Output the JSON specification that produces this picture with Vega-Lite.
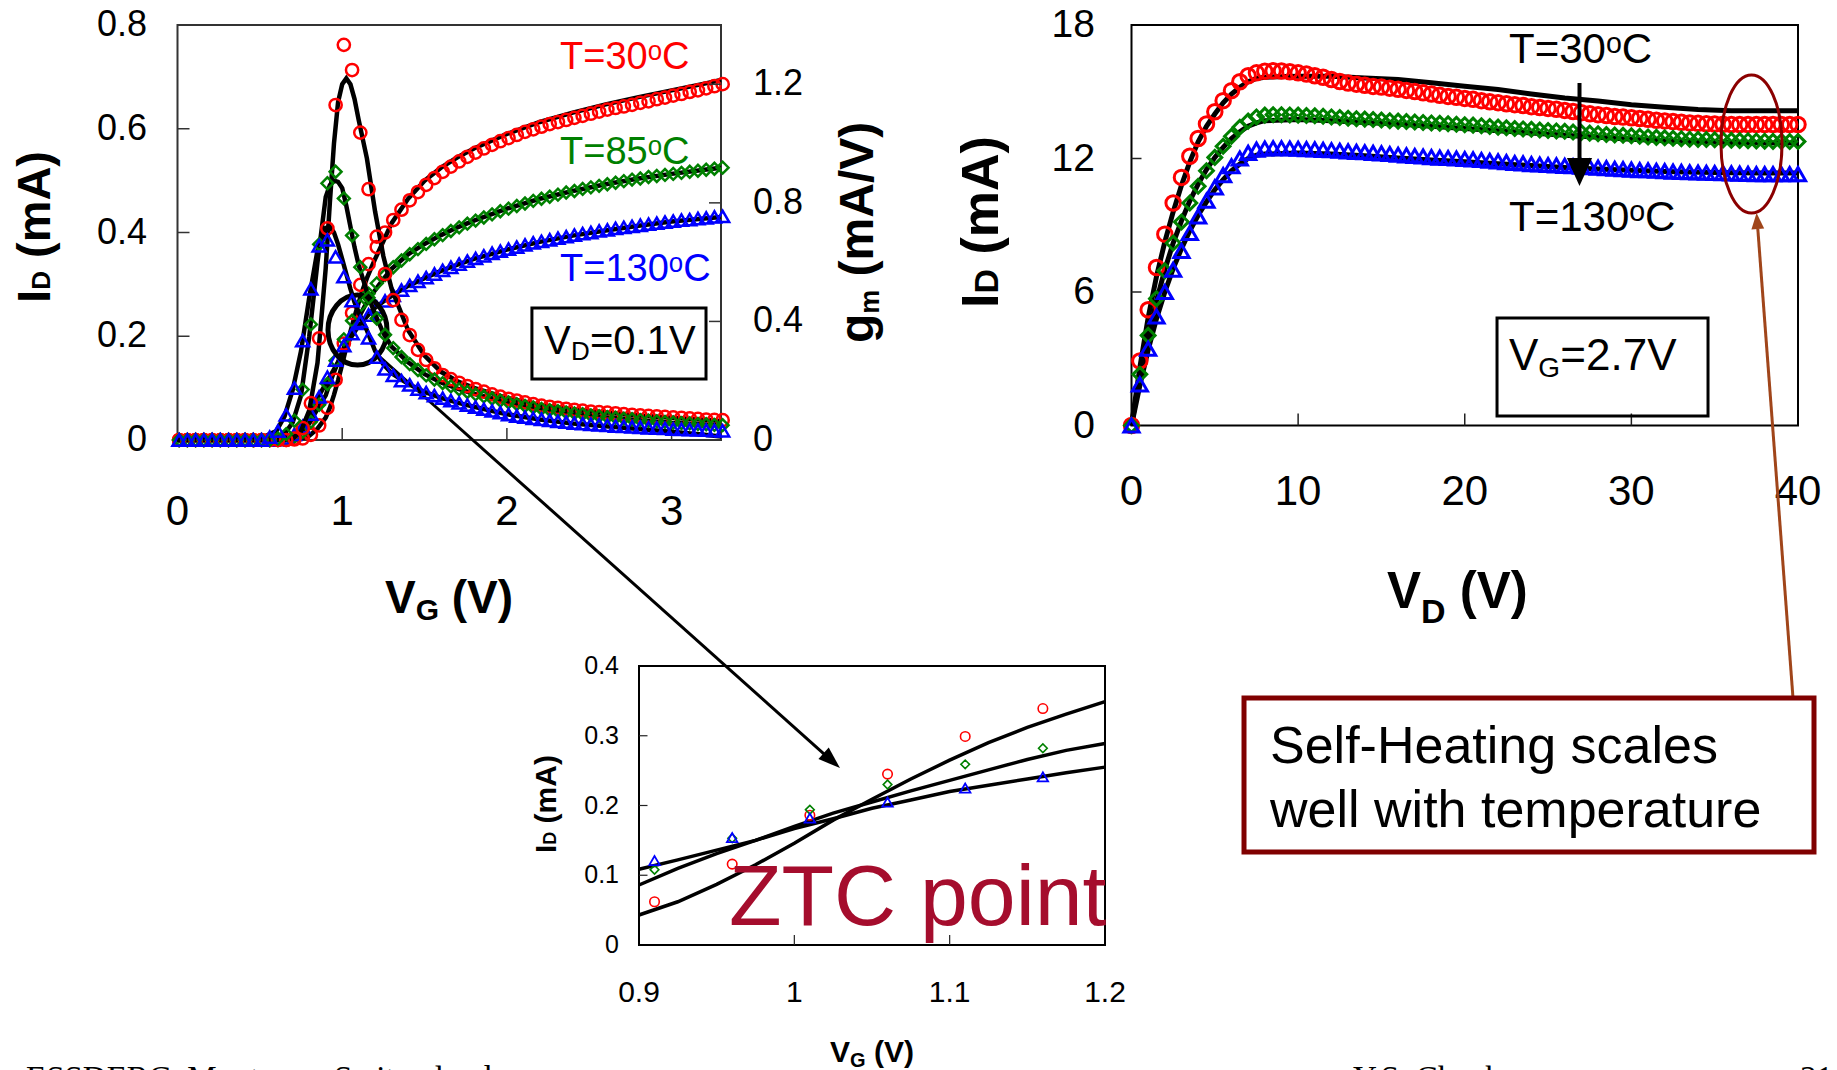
{
"$schema":"https://vega.github.io/schema/vega-lite/v6.json",
"width":1837,"height":1070,"padding":0,"autosize":{"type":"none"},"background":"white",
"config":{"view":{"stroke":null},"font":"Liberation Sans"},
"datasets":{
"lm":[
{"v":0.01,"r":0,"g":0,"b":0,"R":0,"G":0,"B":0},
{"v":0.06,"r":0,"g":0,"b":0,"R":0,"G":0,"B":0},
{"v":0.11,"r":0,"g":0,"b":0,"R":0,"G":0,"B":0},
{"v":0.16,"r":0,"g":0,"b":0,"R":0,"G":0,"B":0},
{"v":0.21,"r":0,"g":0,"b":0,"R":0,"G":0,"B":0},
{"v":0.26,"r":0,"g":0,"b":0,"R":0,"G":0,"B":0},
{"v":0.31,"r":0,"g":0,"b":0,"R":0,"G":0,"B":0},
{"v":0.36,"r":0,"g":0,"b":0,"R":0,"G":0,"B":0},
{"v":0.41,"r":0,"g":0,"b":0,"R":0,"G":0,"B":0},
{"v":0.46,"r":0,"g":0,"b":0,"R":0,"G":0,"B":0},
{"v":0.51,"r":0,"g":0,"b":0,"R":0,"G":0,"B":0},
{"v":0.56,"r":0,"g":0,"b":0,"R":0,"G":0,"B":0.01},
{"v":0.61,"r":0,"g":0,"b":0.001,"R":0,"G":0.005,"B":0.03},
{"v":0.66,"r":0,"g":0.002,"b":0.004,"R":0,"G":0.02,"B":0.085},
{"v":0.71,"r":0.001,"g":0.006,"b":0.011,"R":0.005,"G":0.065,"B":0.175},
{"v":0.76,"r":0.003,"g":0.016,"b":0.026,"R":0.04,"G":0.17,"B":0.335},
{"v":0.81,"r":0.01,"g":0.035,"b":0.05,"R":0.124,"G":0.39,"B":0.51},
{"v":0.86,"r":0.028,"g":0.068,"b":0.083,"R":0.343,"G":0.66,"B":0.655},
{"v":0.91,"r":0.062,"g":0.108,"b":0.121,"R":0.714,"G":0.866,"B":0.675},
{"v":0.96,"r":0.116,"g":0.153,"b":0.154,"R":1.13,"G":0.905,"B":0.618},
{"v":1.01,"r":0.186,"g":0.194,"b":0.182,"R":1.333,"G":0.815,"B":0.551},
{"v":1.06,"r":0.245,"g":0.23,"b":0.205,"R":1.248,"G":0.69,"B":0.47},
{"v":1.11,"r":0.299,"g":0.259,"b":0.225,"R":1.037,"G":0.583,"B":0.4},
{"v":1.16,"r":0.339,"g":0.282,"b":0.241,"R":0.846,"G":0.48,"B":0.345},
{"v":1.21,"r":0.372,"g":0.302,"b":0.256,"R":0.686,"G":0.41,"B":0.28},
{"v":1.26,"r":0.4,"g":0.318,"b":0.268,"R":0.56,"G":0.355,"B":0.24},
{"v":1.31,"r":0.424,"g":0.333,"b":0.279,"R":0.472,"G":0.31,"B":0.218},
{"v":1.36,"r":0.444,"g":0.346,"b":0.289,"R":0.405,"G":0.28,"B":0.2},
{"v":1.41,"r":0.462,"g":0.358,"b":0.298,"R":0.354,"G":0.256,"B":0.186},
{"v":1.46,"r":0.478,"g":0.368,"b":0.306,"R":0.304,"G":0.236,"B":0.172},
{"v":1.51,"r":0.492,"g":0.378,"b":0.313,"R":0.27,"G":0.218,"B":0.16},
{"v":1.56,"r":0.505,"g":0.387,"b":0.32,"R":0.242,"G":0.204,"B":0.15},
{"v":1.61,"r":0.517,"g":0.395,"b":0.327,"R":0.219,"G":0.192,"B":0.141},
{"v":1.66,"r":0.527,"g":0.403,"b":0.333,"R":0.205,"G":0.181,"B":0.133},
{"v":1.71,"r":0.537,"g":0.41,"b":0.339,"R":0.193,"G":0.171,"B":0.125},
{"v":1.76,"r":0.546,"g":0.417,"b":0.345,"R":0.182,"G":0.162,"B":0.118},
{"v":1.81,"r":0.554,"g":0.423,"b":0.35,"R":0.172,"G":0.154,"B":0.111},
{"v":1.86,"r":0.562,"g":0.429,"b":0.355,"R":0.163,"G":0.147,"B":0.104},
{"v":1.91,"r":0.569,"g":0.435,"b":0.36,"R":0.154,"G":0.14,"B":0.098},
{"v":1.96,"r":0.576,"g":0.441,"b":0.364,"R":0.146,"G":0.133,"B":0.092},
{"v":2.01,"r":0.582,"g":0.446,"b":0.368,"R":0.139,"G":0.127,"B":0.086},
{"v":2.06,"r":0.588,"g":0.451,"b":0.372,"R":0.133,"G":0.121,"B":0.081},
{"v":2.11,"r":0.594,"g":0.456,"b":0.376,"R":0.127,"G":0.115,"B":0.077},
{"v":2.16,"r":0.599,"g":0.461,"b":0.38,"R":0.121,"G":0.11,"B":0.073},
{"v":2.21,"r":0.604,"g":0.465,"b":0.383,"R":0.116,"G":0.105,"B":0.07},
{"v":2.26,"r":0.609,"g":0.469,"b":0.386,"R":0.112,"G":0.101,"B":0.066},
{"v":2.31,"r":0.613,"g":0.473,"b":0.389,"R":0.108,"G":0.097,"B":0.063},
{"v":2.36,"r":0.617,"g":0.477,"b":0.392,"R":0.105,"G":0.093,"B":0.06},
{"v":2.41,"r":0.621,"g":0.48,"b":0.395,"R":0.102,"G":0.09,"B":0.057},
{"v":2.46,"r":0.625,"g":0.484,"b":0.398,"R":0.099,"G":0.087,"B":0.055},
{"v":2.51,"r":0.629,"g":0.487,"b":0.4,"R":0.096,"G":0.083,"B":0.053},
{"v":2.56,"r":0.633,"g":0.49,"b":0.403,"R":0.094,"G":0.08,"B":0.051},
{"v":2.61,"r":0.637,"g":0.493,"b":0.405,"R":0.092,"G":0.077,"B":0.049},
{"v":2.66,"r":0.64,"g":0.496,"b":0.408,"R":0.09,"G":0.075,"B":0.047},
{"v":2.71,"r":0.643,"g":0.499,"b":0.41,"R":0.087,"G":0.072,"B":0.046},
{"v":2.76,"r":0.646,"g":0.502,"b":0.412,"R":0.085,"G":0.07,"B":0.044},
{"v":2.81,"r":0.65,"g":0.504,"b":0.414,"R":0.083,"G":0.067,"B":0.043},
{"v":2.86,"r":0.653,"g":0.507,"b":0.416,"R":0.081,"G":0.065,"B":0.041},
{"v":2.91,"r":0.657,"g":0.509,"b":0.418,"R":0.08,"G":0.063,"B":0.04},
{"v":2.96,"r":0.66,"g":0.511,"b":0.42,"R":0.078,"G":0.061,"B":0.039},
{"v":3.01,"r":0.664,"g":0.513,"b":0.422,"R":0.076,"G":0.059,"B":0.037},
{"v":3.06,"r":0.667,"g":0.515,"b":0.424,"R":0.075,"G":0.057,"B":0.036},
{"v":3.11,"r":0.671,"g":0.517,"b":0.425,"R":0.073,"G":0.056,"B":0.035},
{"v":3.16,"r":0.674,"g":0.519,"b":0.427,"R":0.071,"G":0.054,"B":0.034},
{"v":3.21,"r":0.678,"g":0.521,"b":0.428,"R":0.069,"G":0.053,"B":0.033},
{"v":3.26,"r":0.682,"g":0.523,"b":0.43,"R":0.068,"G":0.051,"B":0.032},
{"v":3.31,"r":0.686,"g":0.525,"b":0.431,"R":0.067,"G":0.05,"B":0.031}
],
"lmod":[
{"v":0,"r":0,"g":0,"b":0,"R":0,"G":0,"B":0},
{"v":0.5,"r":0,"g":0,"b":0,"R":0,"G":0,"B":0.005},
{"v":0.6,"r":0,"g":0.001,"b":0.002,"R":0,"G":0.005,"B":0.03},
{"v":0.65,"r":0,"g":0.002,"b":0.004,"R":0.002,"G":0.02,"B":0.08},
{"v":0.7,"r":0.001,"g":0.005,"b":0.01,"R":0.005,"G":0.06,"B":0.17},
{"v":0.75,"r":0.003,"g":0.013,"b":0.024,"R":0.03,"G":0.15,"B":0.3},
{"v":0.8,"r":0.008,"g":0.032,"b":0.048,"R":0.1,"G":0.35,"B":0.48},
{"v":0.85,"r":0.022,"g":0.06,"b":0.08,"R":0.26,"G":0.6,"B":0.64},
{"v":0.9,"r":0.043,"g":0.086,"b":0.1085,"R":0.58,"G":0.82,"B":0.715},
{"v":0.925,"r":0.062,"g":0.11,"b":0.122,"R":0.8,"G":0.86,"B":0.72},
{"v":0.95,"r":0.087,"g":0.131,"b":0.136,"R":1.0,"G":0.875,"B":0.7},
{"v":0.975,"r":0.115,"g":0.15,"b":0.15,"R":1.14,"G":0.871,"B":0.66},
{"v":1.0,"r":0.146,"g":0.17,"b":0.167,"R":1.2,"G":0.85,"B":0.61},
{"v":1.025,"r":0.179,"g":0.189,"b":0.181,"R":1.22,"G":0.79,"B":0.56},
{"v":1.05,"r":0.209,"g":0.205,"b":0.196,"R":1.2,"G":0.72,"B":0.51},
{"v":1.075,"r":0.238,"g":0.221,"b":0.208,"R":1.15,"G":0.65,"B":0.465},
{"v":1.1,"r":0.265,"g":0.236,"b":0.22,"R":1.08,"G":0.59,"B":0.43},
{"v":1.125,"r":0.29,"g":0.251,"b":0.229,"R":1.015,"G":0.545,"B":0.4},
{"v":1.15,"r":0.312,"g":0.266,"b":0.238,"R":0.95,"G":0.5,"B":0.37},
{"v":1.175,"r":0.331,"g":0.279,"b":0.247,"R":0.86,"G":0.46,"B":0.335},
{"v":1.2,"r":0.349,"g":0.289,"b":0.255,"R":0.77,"G":0.425,"B":0.3},
{"v":1.25,"r":0.383,"g":0.31,"b":0.267,"R":0.62,"G":0.36,"B":0.255},
{"v":1.3,"r":0.418,"g":0.33,"b":0.278,"R":0.51,"G":0.315,"B":0.225},
{"v":1.4,"r":0.465,"g":0.358,"b":0.297,"R":0.37,"G":0.262,"B":0.19},
{"v":1.5,"r":0.5,"g":0.378,"b":0.312,"R":0.285,"G":0.222,"B":0.162},
{"v":1.6,"r":0.525,"g":0.395,"b":0.326,"R":0.23,"G":0.194,"B":0.142},
{"v":1.7,"r":0.545,"g":0.41,"b":0.338,"R":0.198,"G":0.173,"B":0.126},
{"v":1.8,"r":0.562,"g":0.423,"b":0.349,"R":0.176,"G":0.156,"B":0.112},
{"v":2.0,"r":0.59,"g":0.446,"b":0.367,"R":0.142,"G":0.128,"B":0.087},
{"v":2.2,"r":0.613,"g":0.465,"b":0.382,"R":0.118,"G":0.106,"B":0.069},
{"v":2.4,"r":0.631,"g":0.48,"b":0.394,"R":0.103,"G":0.09,"B":0.056},
{"v":2.6,"r":0.647,"g":0.493,"b":0.404,"R":0.093,"G":0.077,"B":0.046},
{"v":2.8,"r":0.661,"g":0.504,"b":0.413,"R":0.083,"G":0.067,"B":0.037},
{"v":3.0,"r":0.674,"g":0.513,"b":0.421,"R":0.075,"G":0.058,"B":0.028},
{"v":3.2,"r":0.687,"g":0.521,"b":0.427,"R":0.068,"G":0.052,"B":0.018},
{"v":3.3,"r":0.694,"g":0.525,"b":0.43,"R":0.064,"G":0.049,"B":0.012}
],
"rm":[
{"v":0,"r":0,"g":0,"b":0},{"v":0.5,"r":2.9,"g":2.3,"b":1.85},{"v":1,"r":5.2,"g":4.05,"b":3.45},{"v":1.5,"r":7.1,"g":5.7,"b":4.9},
{"v":2,"r":8.6,"g":6.95,"b":6.0},{"v":2.5,"r":10.0,"g":8.2,"b":7.0},{"v":3,"r":11.15,"g":9.15,"b":7.85},{"v":3.5,"r":12.1,"g":10.0,"b":8.65},
{"v":4,"r":12.9,"g":10.75,"b":9.4},{"v":4.5,"r":13.55,"g":11.45,"b":10.1},{"v":5,"r":14.1,"g":12.05,"b":10.7},{"v":5.5,"r":14.6,"g":12.55,"b":11.25},
{"v":6,"r":15.05,"g":13.0,"b":11.65},{"v":6.5,"r":15.45,"g":13.4,"b":12.0},{"v":7,"r":15.72,"g":13.68,"b":12.25},{"v":7.5,"r":15.85,"g":13.87,"b":12.4},
{"v":8,"r":15.92,"g":13.95,"b":12.45},{"v":8.5,"r":15.94,"g":13.97,"b":12.46},{"v":9,"r":15.93,"g":13.97,"b":12.46},{"v":9.5,"r":15.9,"g":13.96,"b":12.45},
{"v":10,"r":15.85,"g":13.95,"b":12.44},{"v":10.5,"r":15.8,"g":13.93,"b":12.42},{"v":11,"r":15.72,"g":13.92,"b":12.41},{"v":11.5,"r":15.65,"g":13.9,"b":12.39},
{"v":12,"r":15.55,"g":13.87,"b":12.37},{"v":12.5,"r":15.46,"g":13.84,"b":12.35},{"v":13,"r":15.39,"g":13.81,"b":12.32},{"v":13.5,"r":15.34,"g":13.79,"b":12.3},
{"v":14,"r":15.29,"g":13.77,"b":12.28},{"v":14.5,"r":15.24,"g":13.75,"b":12.25},{"v":15,"r":15.21,"g":13.73,"b":12.23},{"v":15.5,"r":15.16,"g":13.7,"b":12.2},
{"v":16,"r":15.11,"g":13.68,"b":12.17},{"v":16.5,"r":15.06,"g":13.66,"b":12.14},{"v":17,"r":15.01,"g":13.64,"b":12.11},{"v":17.5,"r":14.95,"g":13.62,"b":12.09},
{"v":18,"r":14.9,"g":13.6,"b":12.06},{"v":18.5,"r":14.84,"g":13.58,"b":12.04},{"v":19,"r":14.79,"g":13.56,"b":12.02},{"v":19.5,"r":14.75,"g":13.54,"b":12.0},
{"v":20,"r":14.7,"g":13.52,"b":11.98},{"v":20.5,"r":14.66,"g":13.5,"b":11.96},{"v":21,"r":14.6,"g":13.47,"b":11.93},{"v":21.5,"r":14.55,"g":13.44,"b":11.9},
{"v":22,"r":14.51,"g":13.41,"b":11.87},{"v":22.5,"r":14.46,"g":13.38,"b":11.84},{"v":23,"r":14.42,"g":13.35,"b":11.8},{"v":23.5,"r":14.38,"g":13.33,"b":11.78},
{"v":24,"r":14.33,"g":13.31,"b":11.75},{"v":24.5,"r":14.29,"g":13.28,"b":11.73},{"v":25,"r":14.25,"g":13.26,"b":11.71},{"v":25.5,"r":14.21,"g":13.24,"b":11.69},
{"v":26,"r":14.16,"g":13.22,"b":11.67},{"v":26.5,"r":14.11,"g":13.19,"b":11.65},{"v":27,"r":14.06,"g":13.17,"b":11.63},{"v":27.5,"r":14.01,"g":13.14,"b":11.61},
{"v":28,"r":13.97,"g":13.11,"b":11.59},{"v":28.5,"r":13.93,"g":13.08,"b":11.57},{"v":29,"r":13.89,"g":13.06,"b":11.54},{"v":29.5,"r":13.86,"g":13.04,"b":11.52},
{"v":30,"r":13.83,"g":13.02,"b":11.5},{"v":30.5,"r":13.8,"g":13.0,"b":11.48},{"v":31,"r":13.76,"g":12.97,"b":11.47},{"v":31.5,"r":13.72,"g":12.95,"b":11.45},
{"v":32,"r":13.69,"g":12.93,"b":11.43},{"v":32.5,"r":13.66,"g":12.91,"b":11.41},{"v":33,"r":13.63,"g":12.89,"b":11.4},{"v":33.5,"r":13.6,"g":12.87,"b":11.38},
{"v":34,"r":13.58,"g":12.86,"b":11.37},{"v":34.5,"r":13.56,"g":12.85,"b":11.36},{"v":35,"r":13.55,"g":12.84,"b":11.35},{"v":35.5,"r":13.54,"g":12.83,"b":11.34},
{"v":36,"r":13.53,"g":12.82,"b":11.33},{"v":36.5,"r":13.53,"g":12.81,"b":11.32},{"v":37,"r":13.53,"g":12.8,"b":11.31},{"v":37.5,"r":13.53,"g":12.79,"b":11.3},
{"v":38,"r":13.53,"g":12.78,"b":11.3},{"v":38.5,"r":13.53,"g":12.77,"b":11.3},{"v":39,"r":13.53,"g":12.77,"b":11.3},{"v":39.5,"r":13.53,"g":12.76,"b":11.3},
{"v":40,"r":13.53,"g":12.76,"b":11.3}
],
"rmod":[
{"v":0,"r":0,"g":0,"b":0},{"v":0.5,"r":2.6,"g":2.2,"b":1.8},{"v":1,"r":4.85,"g":4.0,"b":3.4},{"v":1.5,"r":6.7,"g":5.6,"b":4.8},
{"v":2,"r":8.25,"g":7.0,"b":6.0},{"v":2.5,"r":9.6,"g":8.2,"b":7.05},{"v":3,"r":10.8,"g":9.2,"b":7.95},{"v":3.5,"r":11.85,"g":10.1,"b":8.75},
{"v":4,"r":12.75,"g":10.85,"b":9.45},{"v":4.5,"r":13.45,"g":11.5,"b":10.05},{"v":5,"r":14.0,"g":12.05,"b":10.6},{"v":5.5,"r":14.5,"g":12.5,"b":11.05},
{"v":6,"r":14.9,"g":12.9,"b":11.45},{"v":6.5,"r":15.2,"g":13.2,"b":11.75},{"v":7,"r":15.45,"g":13.45,"b":12.0},{"v":7.5,"r":15.6,"g":13.6,"b":12.15},
{"v":8,"r":15.65,"g":13.7,"b":12.2},{"v":10,"r":15.7,"g":13.75,"b":12.25},{"v":12,"r":15.7,"g":13.7,"b":12.2},{"v":14,"r":15.62,"g":13.62,"b":12.12},
{"v":16,"r":15.55,"g":13.55,"b":12.02},{"v":18,"r":15.4,"g":13.45,"b":11.93},{"v":20,"r":15.25,"g":13.35,"b":11.85},{"v":22,"r":15.1,"g":13.25,"b":11.76},
{"v":24,"r":14.9,"g":13.15,"b":11.68},{"v":26,"r":14.72,"g":13.05,"b":11.6},{"v":28,"r":14.58,"g":12.95,"b":11.53},{"v":30,"r":14.42,"g":12.87,"b":11.47},
{"v":32,"r":14.3,"g":12.8,"b":11.42},{"v":34,"r":14.2,"g":12.75,"b":11.38},{"v":36,"r":14.15,"g":12.72,"b":11.36},{"v":38,"r":14.15,"g":12.7,"b":11.35},
{"v":40,"r":14.15,"g":12.7,"b":11.35}
]
},
"layer":[
{"layer":[
{"data":{"values":[{}]},"mark":{"type":"rect","fill":"transparent","stroke":"#333333","strokeWidth":2},
"encoding":{"x":{"datum":0,"type":"quantitative","scale":{"domain":[0,3.3],"range":[177.5,721],"nice":false,"zero":false},"axis":null},"x2":{"datum":3.3},
"y":{"datum":0,"type":"quantitative","scale":{"domain":[0,0.8],"range":[440,25],"nice":false,"zero":false},"axis":null},"y2":{"datum":0.8}}},
{"data":{"values":[{"t":1},{"t":2},{"t":3}]},"mark":{"type":"rule","color":"#333333","strokeWidth":1.5},"encoding":{"x":{"field":"t","type":"quantitative","scale":{"domain":[0,3.3],"range":[177.5,721],"nice":false,"zero":false},"axis":null},"y":{"datum":0,"type":"quantitative","scale":{"domain":[0,0.8],"range":[440,25],"nice":false,"zero":false},"axis":null},"y2":{"datum":0.0231}}},
{"data":{"values":[{"t":0.2},{"t":0.4},{"t":0.6}]},"mark":{"type":"rule","color":"#333333","strokeWidth":1.5},"encoding":{"y":{"field":"t","type":"quantitative","scale":{"domain":[0,0.8],"range":[440,25],"nice":false,"zero":false},"axis":null},"x":{"datum":0,"type":"quantitative","scale":{"domain":[0,3.3],"range":[177.5,721],"nice":false,"zero":false},"axis":null},"x2":{"datum":0.0729}}},
{"data":{"values":[{"t":0},{"t":1},{"t":2},{"t":3}]},"mark":{"type":"text","align":"center","baseline":"alphabetic","fontSize":42,"color":"black"},"encoding":{"x":{"field":"t","type":"quantitative","scale":{"domain":[0,3.3],"range":[177.5,721],"nice":false,"zero":false},"axis":null},"y":{"datum":-0.1639,"type":"quantitative","scale":{"domain":[0,0.8],"range":[440,25],"nice":false,"zero":false},"axis":null},"text":{"field":"t","type":"quantitative","format":"~g"}}},
{"data":{"values":[{"t":0},{"t":0.2},{"t":0.4},{"t":0.6},{"t":0.8}]},"mark":{"type":"text","align":"right","baseline":"middle","fontSize":36,"color":"black"},"encoding":{"y":{"field":"t","type":"quantitative","scale":{"domain":[0,0.8],"range":[440,25],"nice":false,"zero":false},"axis":null},"x":{"datum":-0.1852,"type":"quantitative","scale":{"domain":[0,3.3],"range":[177.5,721],"nice":false,"zero":false},"axis":null},"text":{"field":"t","type":"quantitative","format":"~g"}}},
{"data":{"name":"lmod"},"mark":{"type":"line","color":"black","strokeWidth":4.5},"encoding":{"x":{"field":"v","type":"quantitative","scale":{"domain":[0,3.3],"range":[177.5,721],"nice":false,"zero":false},"axis":null},"y":{"field":"r","type":"quantitative","scale":{"domain":[0,0.8],"range":[440,25],"nice":false,"zero":false},"axis":null}}},
{"data":{"name":"lmod"},"mark":{"type":"line","color":"black","strokeWidth":4.5},"encoding":{"x":{"field":"v","type":"quantitative","scale":{"domain":[0,3.3],"range":[177.5,721],"nice":false,"zero":false},"axis":null},"y":{"field":"g","type":"quantitative","scale":{"domain":[0,0.8],"range":[440,25],"nice":false,"zero":false},"axis":null}}},
{"data":{"name":"lmod"},"mark":{"type":"line","color":"black","strokeWidth":4.5},"encoding":{"x":{"field":"v","type":"quantitative","scale":{"domain":[0,3.3],"range":[177.5,721],"nice":false,"zero":false},"axis":null},"y":{"field":"b","type":"quantitative","scale":{"domain":[0,0.8],"range":[440,25],"nice":false,"zero":false},"axis":null}}},
{"data":{"name":"lm"},"mark":{"type":"point","shape":"circle","filled":false,"color":"#FF0000","size":150,"strokeWidth":2.5,"opacity":1},"encoding":{"x":{"field":"v","type":"quantitative","scale":{"domain":[0,3.3],"range":[177.5,721],"nice":false,"zero":false},"axis":null},"y":{"field":"r","type":"quantitative","scale":{"domain":[0,0.8],"range":[440,25],"nice":false,"zero":false},"axis":null}}},
{"data":{"name":"lm"},"mark":{"type":"point","shape":"diamond","filled":false,"color":"#008000","size":140,"strokeWidth":2.5,"opacity":1},"encoding":{"x":{"field":"v","type":"quantitative","scale":{"domain":[0,3.3],"range":[177.5,721],"nice":false,"zero":false},"axis":null},"y":{"field":"g","type":"quantitative","scale":{"domain":[0,0.8],"range":[440,25],"nice":false,"zero":false},"axis":null}}},
{"data":{"name":"lm"},"mark":{"type":"point","shape":"triangle-up","filled":false,"color":"#0000FF","size":170,"strokeWidth":2.5,"opacity":1},"encoding":{"x":{"field":"v","type":"quantitative","scale":{"domain":[0,3.3],"range":[177.5,721],"nice":false,"zero":false},"axis":null},"y":{"field":"b","type":"quantitative","scale":{"domain":[0,0.8],"range":[440,25],"nice":false,"zero":false},"axis":null}}},
{"data":{"values":[{}]},"mark":{"type":"text","text":"T=30ᵒC","align":"left","baseline":"alphabetic","fontSize":38,"color":"#FF0000"},"encoding":{"x":{"datum":2.3224,"type":"quantitative","scale":{"domain":[0,3.3],"range":[177.5,721],"nice":false,"zero":false},"axis":null},"y":{"datum":0.7152,"type":"quantitative","scale":{"domain":[0,0.8],"range":[440,25],"nice":false,"zero":false},"axis":null}}},
{"data":{"values":[{}]},"mark":{"type":"text","text":"T=85ᵒC","align":"left","baseline":"alphabetic","fontSize":38,"color":"#008000"},"encoding":{"x":{"datum":2.3224,"type":"quantitative","scale":{"domain":[0,3.3],"range":[177.5,721],"nice":false,"zero":false},"axis":null},"y":{"datum":0.532,"type":"quantitative","scale":{"domain":[0,0.8],"range":[440,25],"nice":false,"zero":false},"axis":null}}},
{"data":{"values":[{}]},"mark":{"type":"text","text":"T=130ᵒC","align":"left","baseline":"alphabetic","fontSize":38,"color":"#0000FF"},"encoding":{"x":{"datum":2.3224,"type":"quantitative","scale":{"domain":[0,3.3],"range":[177.5,721],"nice":false,"zero":false},"axis":null},"y":{"datum":0.3065,"type":"quantitative","scale":{"domain":[0,0.8],"range":[440,25],"nice":false,"zero":false},"axis":null}}},
{"data":{"values":[{}]},"mark":{"type":"rect","fill":"transparent","stroke":"black","strokeWidth":3},"encoding":{"x":{"datum":2.152,"type":"quantitative","scale":{"domain":[0,3.3],"range":[177.5,721],"nice":false,"zero":false},"axis":null},"x2":{"datum":3.209},"y":{"datum":0.1176,"type":"quantitative","scale":{"domain":[0,0.8],"range":[440,25],"nice":false,"zero":false},"axis":null},"y2":{"datum":0.2545}}},
{"data":{"values":[{}]},"mark":{"type":"text","text":"V","align":"left","baseline":"alphabetic","fontSize":40,"color":"black"},"encoding":{"x":{"datum":2.225,"type":"quantitative","scale":{"domain":[0,3.3],"range":[177.5,721],"nice":false,"zero":false},"axis":null},"y":{"datum":0.1658,"type":"quantitative","scale":{"domain":[0,0.8],"range":[440,25],"nice":false,"zero":false},"axis":null}}},
{"data":{"values":[{}]},"mark":{"type":"text","text":"D","align":"left","baseline":"alphabetic","fontSize":26,"color":"black"},"encoding":{"x":{"datum":2.389,"type":"quantitative","scale":{"domain":[0,3.3],"range":[177.5,721],"nice":false,"zero":false},"axis":null},"y":{"datum":0.1542,"type":"quantitative","scale":{"domain":[0,0.8],"range":[440,25],"nice":false,"zero":false},"axis":null}}},
{"data":{"values":[{}]},"mark":{"type":"text","text":"=0.1V","align":"left","baseline":"alphabetic","fontSize":40,"color":"black"},"encoding":{"x":{"datum":2.5046,"type":"quantitative","scale":{"domain":[0,3.3],"range":[177.5,721],"nice":false,"zero":false},"axis":null},"y":{"datum":0.1658,"type":"quantitative","scale":{"domain":[0,0.8],"range":[440,25],"nice":false,"zero":false},"axis":null}}},
{"data":{"values":[{}]},"mark":{"type":"point","shape":"M-0.843,0A0.843,1,0,1,0,0.843,0A0.843,1,0,1,0,-0.843,0Z","filled":false,"color":"black","size":4900,"strokeWidth":5,"opacity":1},"encoding":{"x":{"datum":1.0929,"type":"quantitative","scale":{"domain":[0,3.3],"range":[177.5,721],"nice":false,"zero":false},"axis":null},"y":{"datum":0.212,"type":"quantitative","scale":{"domain":[0,0.8],"range":[440,25],"nice":false,"zero":false},"axis":null}}},
{"data":{"values":[{}]},"mark":{"type":"rule","color":"black","strokeWidth":3},"encoding":{"x":{"datum":1.2295,"type":"quantitative","scale":{"domain":[0,3.3],"range":[177.5,721],"nice":false,"zero":false},"axis":null},"x2":{"datum":3.974},"y":{"datum":0.16,"type":"quantitative","scale":{"domain":[0,0.8],"range":[440,25],"nice":false,"zero":false},"axis":null},"y2":{"datum":-0.6189}}},
{"data":{"values":[{}]},"mark":{"type":"point","shape":"M0,0L-1,-0.35L-1,0.35Z","filled":true,"color":"black","size":1936,"angle":41.78,"opacity":1},"encoding":{"x":{"datum":4.0225,"type":"quantitative","scale":{"domain":[0,3.3],"range":[177.5,721],"nice":false,"zero":false},"axis":null},"y":{"datum":-0.6323,"type":"quantitative","scale":{"domain":[0,0.8],"range":[440,25],"nice":false,"zero":false},"axis":null}}},
{"data":{"values":[{}]},"mark":{"type":"text","text":"I","align":"left","baseline":"alphabetic","angle":270,"fontSize":47,"fontWeight":"bold","color":"black"},"encoding":{"x":{"datum":-0.7741,"type":"quantitative","scale":{"domain":[0,3.3],"range":[177.5,721],"nice":false,"zero":false},"axis":null},"y":{"datum":0.2641,"type":"quantitative","scale":{"domain":[0,0.8],"range":[440,25],"nice":false,"zero":false},"axis":null}}},
{"data":{"values":[{}]},"mark":{"type":"text","text":"D","align":"left","baseline":"alphabetic","angle":270,"fontSize":26,"fontWeight":"bold","color":"black"},"encoding":{"x":{"datum":-0.7741,"type":"quantitative","scale":{"domain":[0,3.3],"range":[177.5,721],"nice":false,"zero":false},"axis":null},"y":{"datum":0.2894,"type":"quantitative","scale":{"domain":[0,0.8],"range":[440,25],"nice":false,"zero":false},"axis":null}}},
{"data":{"values":[{}]},"mark":{"type":"text","text":"(mA)","align":"left","baseline":"alphabetic","angle":270,"fontSize":47,"fontWeight":"bold","color":"black"},"encoding":{"x":{"datum":-0.7741,"type":"quantitative","scale":{"domain":[0,3.3],"range":[177.5,721],"nice":false,"zero":false},"axis":null},"y":{"datum":0.3508,"type":"quantitative","scale":{"domain":[0,0.8],"range":[440,25],"nice":false,"zero":false},"axis":null}}},
{"data":{"values":[{}]},"mark":{"type":"text","text":"V","align":"left","baseline":"alphabetic","fontSize":46,"fontWeight":"bold","color":"black"},"encoding":{"x":{"datum":1.2599,"type":"quantitative","scale":{"domain":[0,3.3],"range":[177.5,721],"nice":false,"zero":false},"axis":null},"y":{"datum":-0.3335,"type":"quantitative","scale":{"domain":[0,0.8],"range":[440,25],"nice":false,"zero":false},"axis":null}}},
{"data":{"values":[{}]},"mark":{"type":"text","text":"G","align":"left","baseline":"alphabetic","fontSize":30,"fontWeight":"bold","color":"black"},"encoding":{"x":{"datum":1.4463,"type":"quantitative","scale":{"domain":[0,3.3],"range":[177.5,721],"nice":false,"zero":false},"axis":null},"y":{"datum":-0.347,"type":"quantitative","scale":{"domain":[0,0.8],"range":[440,25],"nice":false,"zero":false},"axis":null}}},
{"data":{"values":[{}]},"mark":{"type":"text","text":"(V)","align":"left","baseline":"alphabetic","fontSize":46,"fontWeight":"bold","color":"black"},"encoding":{"x":{"datum":1.6655,"type":"quantitative","scale":{"domain":[0,3.3],"range":[177.5,721],"nice":false,"zero":false},"axis":null},"y":{"datum":-0.3335,"type":"quantitative","scale":{"domain":[0,0.8],"range":[440,25],"nice":false,"zero":false},"axis":null}}},
{"data":{"values":[{}]},"mark":{"type":"text","text":"g","align":"left","baseline":"alphabetic","angle":270,"fontSize":48,"fontWeight":"bold","color":"black"},"encoding":{"x":{"datum":4.2229,"type":"quantitative","scale":{"domain":[0,3.3],"range":[177.5,721],"nice":false,"zero":false},"axis":null},"y":{"datum":0.187,"type":"quantitative","scale":{"domain":[0,0.8],"range":[440,25],"nice":false,"zero":false},"axis":null}}},
{"data":{"values":[{}]},"mark":{"type":"text","text":"m","align":"left","baseline":"alphabetic","angle":270,"fontSize":27,"fontWeight":"bold","color":"black"},"encoding":{"x":{"datum":4.2593,"type":"quantitative","scale":{"domain":[0,3.3],"range":[177.5,721],"nice":false,"zero":false},"axis":null},"y":{"datum":0.2435,"type":"quantitative","scale":{"domain":[0,0.8],"range":[440,25],"nice":false,"zero":false},"axis":null}}},
{"data":{"values":[{}]},"mark":{"type":"text","text":"(mA/V)","align":"left","baseline":"alphabetic","angle":270,"fontSize":48,"fontWeight":"bold","color":"black"},"encoding":{"x":{"datum":4.2229,"type":"quantitative","scale":{"domain":[0,3.3],"range":[177.5,721],"nice":false,"zero":false},"axis":null},"y":{"datum":0.3154,"type":"quantitative","scale":{"domain":[0,0.8],"range":[440,25],"nice":false,"zero":false},"axis":null}}}
]},
{"layer":[
{"data":{"values":[{"t":0.4},{"t":0.8},{"t":1.2}]},"mark":{"type":"rule","color":"#333333","strokeWidth":1.5},"encoding":{"y":{"field":"t","type":"quantitative","scale":{"domain":[0,1.4],"range":[440,25],"nice":false,"zero":false},"axis":null},"x":{"datum":3.3,"type":"quantitative","scale":{"domain":[0,3.3],"range":[177.5,721],"nice":false,"zero":false},"axis":null},"x2":{"datum":3.2271}}},
{"data":{"values":[{"t":0},{"t":0.4},{"t":0.8},{"t":1.2}]},"mark":{"type":"text","align":"left","baseline":"middle","fontSize":36,"color":"black"},"encoding":{"y":{"field":"t","type":"quantitative","scale":{"domain":[0,1.4],"range":[440,25],"nice":false,"zero":false},"axis":null},"x":{"datum":3.4943,"type":"quantitative","scale":{"domain":[0,3.3],"range":[177.5,721],"nice":false,"zero":false},"axis":null},"text":{"field":"t","type":"quantitative","format":"~g"}}},
{"data":{"name":"lmod"},"mark":{"type":"line","color":"black","strokeWidth":4.5},"encoding":{"x":{"field":"v","type":"quantitative","scale":{"domain":[0,3.3],"range":[177.5,721],"nice":false,"zero":false},"axis":null},"y":{"field":"R","type":"quantitative","scale":{"domain":[0,1.4],"range":[440,25],"nice":false,"zero":false},"axis":null}}},
{"data":{"name":"lmod"},"mark":{"type":"line","color":"black","strokeWidth":4.5},"encoding":{"x":{"field":"v","type":"quantitative","scale":{"domain":[0,3.3],"range":[177.5,721],"nice":false,"zero":false},"axis":null},"y":{"field":"G","type":"quantitative","scale":{"domain":[0,1.4],"range":[440,25],"nice":false,"zero":false},"axis":null}}},
{"data":{"name":"lmod"},"mark":{"type":"line","color":"black","strokeWidth":4.5},"encoding":{"x":{"field":"v","type":"quantitative","scale":{"domain":[0,3.3],"range":[177.5,721],"nice":false,"zero":false},"axis":null},"y":{"field":"B","type":"quantitative","scale":{"domain":[0,1.4],"range":[440,25],"nice":false,"zero":false},"axis":null}}},
{"data":{"name":"lm"},"mark":{"type":"point","shape":"circle","filled":false,"color":"#FF0000","size":150,"strokeWidth":2.5,"opacity":1},"encoding":{"x":{"field":"v","type":"quantitative","scale":{"domain":[0,3.3],"range":[177.5,721],"nice":false,"zero":false},"axis":null},"y":{"field":"R","type":"quantitative","scale":{"domain":[0,1.4],"range":[440,25],"nice":false,"zero":false},"axis":null}}},
{"data":{"name":"lm"},"mark":{"type":"point","shape":"diamond","filled":false,"color":"#008000","size":140,"strokeWidth":2.5,"opacity":1},"encoding":{"x":{"field":"v","type":"quantitative","scale":{"domain":[0,3.3],"range":[177.5,721],"nice":false,"zero":false},"axis":null},"y":{"field":"G","type":"quantitative","scale":{"domain":[0,1.4],"range":[440,25],"nice":false,"zero":false},"axis":null}}},
{"data":{"name":"lm"},"mark":{"type":"point","shape":"triangle-up","filled":false,"color":"#0000FF","size":170,"strokeWidth":2.5,"opacity":1},"encoding":{"x":{"field":"v","type":"quantitative","scale":{"domain":[0,3.3],"range":[177.5,721],"nice":false,"zero":false},"axis":null},"y":{"field":"B","type":"quantitative","scale":{"domain":[0,1.4],"range":[440,25],"nice":false,"zero":false},"axis":null}}}
]},
{"layer":[
{"data":{"values":[{}]},"mark":{"type":"rect","fill":"transparent","stroke":"black","strokeWidth":2},
"encoding":{"x":{"datum":0,"type":"quantitative","scale":{"domain":[0,40],"range":[1131.5,1798],"nice":false,"zero":false},"axis":null},"x2":{"datum":40},
"y":{"datum":0,"type":"quantitative","scale":{"domain":[0,18],"range":[425.5,25],"nice":false,"zero":false},"axis":null},"y2":{"datum":18}}},
{"data":{"values":[{"t":10},{"t":20},{"t":30}]},"mark":{"type":"rule","color":"#222222","strokeWidth":1.5},"encoding":{"x":{"field":"t","type":"quantitative","scale":{"domain":[0,40],"range":[1131.5,1798],"nice":false,"zero":false},"axis":null},"y":{"datum":0,"type":"quantitative","scale":{"domain":[0,18],"range":[425.5,25],"nice":false,"zero":false},"axis":null},"y2":{"datum":0.539}}},
{"data":{"values":[{"t":6},{"t":12}]},"mark":{"type":"rule","color":"#222222","strokeWidth":1.5},"encoding":{"y":{"field":"t","type":"quantitative","scale":{"domain":[0,18],"range":[425.5,25],"nice":false,"zero":false},"axis":null},"x":{"datum":0,"type":"quantitative","scale":{"domain":[0,40],"range":[1131.5,1798],"nice":false,"zero":false},"axis":null},"x2":{"datum":0.6}}},
{"data":{"values":[{"t":0},{"t":10},{"t":20},{"t":30},{"t":40}]},"mark":{"type":"text","align":"center","baseline":"alphabetic","fontSize":42,"color":"black"},"encoding":{"x":{"field":"t","type":"quantitative","scale":{"domain":[0,40],"range":[1131.5,1798],"nice":false,"zero":false},"axis":null},"y":{"datum":-3.573,"type":"quantitative","scale":{"domain":[0,18],"range":[425.5,25],"nice":false,"zero":false},"axis":null},"text":{"field":"t","type":"quantitative","format":"~g"}}},
{"data":{"values":[{"t":0},{"t":6},{"t":12},{"t":18}]},"mark":{"type":"text","align":"right","baseline":"middle","fontSize":39,"color":"black"},"encoding":{"y":{"field":"t","type":"quantitative","scale":{"domain":[0,18],"range":[425.5,25],"nice":false,"zero":false},"axis":null},"x":{"datum":-2.19,"type":"quantitative","scale":{"domain":[0,40],"range":[1131.5,1798],"nice":false,"zero":false},"axis":null},"text":{"field":"t","type":"quantitative","format":"~g"}}},
{"data":{"name":"rmod"},"mark":{"type":"line","color":"black","strokeWidth":5},"encoding":{"x":{"field":"v","type":"quantitative","scale":{"domain":[0,40],"range":[1131.5,1798],"nice":false,"zero":false},"axis":null},"y":{"field":"r","type":"quantitative","scale":{"domain":[0,18],"range":[425.5,25],"nice":false,"zero":false},"axis":null}}},
{"data":{"name":"rmod"},"mark":{"type":"line","color":"black","strokeWidth":5},"encoding":{"x":{"field":"v","type":"quantitative","scale":{"domain":[0,40],"range":[1131.5,1798],"nice":false,"zero":false},"axis":null},"y":{"field":"g","type":"quantitative","scale":{"domain":[0,18],"range":[425.5,25],"nice":false,"zero":false},"axis":null}}},
{"data":{"name":"rmod"},"mark":{"type":"line","color":"black","strokeWidth":5},"encoding":{"x":{"field":"v","type":"quantitative","scale":{"domain":[0,40],"range":[1131.5,1798],"nice":false,"zero":false},"axis":null},"y":{"field":"b","type":"quantitative","scale":{"domain":[0,18],"range":[425.5,25],"nice":false,"zero":false},"axis":null}}},
{"data":{"name":"rm"},"mark":{"type":"point","shape":"circle","filled":false,"color":"#FF0000","size":210,"strokeWidth":3,"opacity":1},"encoding":{"x":{"field":"v","type":"quantitative","scale":{"domain":[0,40],"range":[1131.5,1798],"nice":false,"zero":false},"axis":null},"y":{"field":"r","type":"quantitative","scale":{"domain":[0,18],"range":[425.5,25],"nice":false,"zero":false},"axis":null}}},
{"data":{"name":"rm"},"mark":{"type":"point","shape":"diamond","filled":false,"color":"#008000","size":190,"strokeWidth":3,"opacity":1},"encoding":{"x":{"field":"v","type":"quantitative","scale":{"domain":[0,40],"range":[1131.5,1798],"nice":false,"zero":false},"axis":null},"y":{"field":"g","type":"quantitative","scale":{"domain":[0,18],"range":[425.5,25],"nice":false,"zero":false},"axis":null}}},
{"data":{"name":"rm"},"mark":{"type":"point","shape":"triangle-up","filled":false,"color":"#0000FF","size":230,"strokeWidth":3,"opacity":1},"encoding":{"x":{"field":"v","type":"quantitative","scale":{"domain":[0,40],"range":[1131.5,1798],"nice":false,"zero":false},"axis":null},"y":{"field":"b","type":"quantitative","scale":{"domain":[0,18],"range":[425.5,25],"nice":false,"zero":false},"axis":null}}},
{"data":{"values":[{}]},"mark":{"type":"text","text":"T=30ᵒC","align":"left","baseline":"alphabetic","fontSize":42,"color":"black"},"encoding":{"x":{"datum":22.656,"type":"quantitative","scale":{"domain":[0,40],"range":[1131.5,1798],"nice":false,"zero":false},"axis":null},"y":{"datum":16.292,"type":"quantitative","scale":{"domain":[0,18],"range":[425.5,25],"nice":false,"zero":false},"axis":null}}},
{"data":{"values":[{}]},"mark":{"type":"text","text":"T=130ᵒC","align":"left","baseline":"alphabetic","fontSize":42,"color":"black"},"encoding":{"x":{"datum":22.656,"type":"quantitative","scale":{"domain":[0,40],"range":[1131.5,1798],"nice":false,"zero":false},"axis":null},"y":{"datum":8.742,"type":"quantitative","scale":{"domain":[0,18],"range":[425.5,25],"nice":false,"zero":false},"axis":null}}},
{"data":{"values":[{}]},"mark":{"type":"rule","color":"black","strokeWidth":4},"encoding":{"x":{"datum":26.887,"type":"quantitative","scale":{"domain":[0,40],"range":[1131.5,1798],"nice":false,"zero":false},"axis":null},"x2":{"datum":26.887},"y":{"datum":15.393,"type":"quantitative","scale":{"domain":[0,18],"range":[425.5,25],"nice":false,"zero":false},"axis":null},"y2":{"datum":11.5}}},
{"data":{"values":[{}]},"mark":{"type":"point","shape":"M0,0L-1,-0.45L-1,0.45Z","filled":true,"color":"black","size":3136,"angle":90,"opacity":1},"encoding":{"x":{"datum":26.887,"type":"quantitative","scale":{"domain":[0,40],"range":[1131.5,1798],"nice":false,"zero":false},"axis":null},"y":{"datum":10.764,"type":"quantitative","scale":{"domain":[0,18],"range":[425.5,25],"nice":false,"zero":false},"axis":null}}},
{"data":{"values":[{}]},"mark":{"type":"rect","fill":"transparent","stroke":"black","strokeWidth":3},"encoding":{"x":{"datum":21.937,"type":"quantitative","scale":{"domain":[0,40],"range":[1131.5,1798],"nice":false,"zero":false},"axis":null},"x2":{"datum":34.6},"y":{"datum":0.427,"type":"quantitative","scale":{"domain":[0,18],"range":[425.5,25],"nice":false,"zero":false},"axis":null},"y2":{"datum":4.831}}},
{"data":{"values":[{}]},"mark":{"type":"text","text":"V","align":"left","baseline":"alphabetic","fontSize":44,"color":"black"},"encoding":{"x":{"datum":22.656,"type":"quantitative","scale":{"domain":[0,40],"range":[1131.5,1798],"nice":false,"zero":false},"axis":null},"y":{"datum":2.494,"type":"quantitative","scale":{"domain":[0,18],"range":[425.5,25],"nice":false,"zero":false},"axis":null}}},
{"data":{"values":[{}]},"mark":{"type":"text","text":"G","align":"left","baseline":"alphabetic","fontSize":28,"color":"black"},"encoding":{"x":{"datum":24.414,"type":"quantitative","scale":{"domain":[0,40],"range":[1131.5,1798],"nice":false,"zero":false},"axis":null},"y":{"datum":2.18,"type":"quantitative","scale":{"domain":[0,18],"range":[425.5,25],"nice":false,"zero":false},"axis":null}}},
{"data":{"values":[{}]},"mark":{"type":"text","text":"=2.7V","align":"left","baseline":"alphabetic","fontSize":44,"color":"black"},"encoding":{"x":{"datum":25.734,"type":"quantitative","scale":{"domain":[0,40],"range":[1131.5,1798],"nice":false,"zero":false},"axis":null},"y":{"datum":2.494,"type":"quantitative","scale":{"domain":[0,18],"range":[425.5,25],"nice":false,"zero":false},"axis":null}}},
{"data":{"values":[{}]},"mark":{"type":"text","text":"I","align":"left","baseline":"alphabetic","angle":270,"fontSize":52,"fontWeight":"bold","color":"black"},"encoding":{"x":{"datum":-8.012,"type":"quantitative","scale":{"domain":[0,40],"range":[1131.5,1798],"nice":false,"zero":false},"axis":null},"y":{"datum":5.281,"type":"quantitative","scale":{"domain":[0,18],"range":[425.5,25],"nice":false,"zero":false},"axis":null}}},
{"data":{"values":[{}]},"mark":{"type":"text","text":"D","align":"left","baseline":"alphabetic","angle":270,"fontSize":34,"fontWeight":"bold","color":"black"},"encoding":{"x":{"datum":-8.012,"type":"quantitative","scale":{"domain":[0,40],"range":[1131.5,1798],"nice":false,"zero":false},"axis":null},"y":{"datum":5.933,"type":"quantitative","scale":{"domain":[0,18],"range":[425.5,25],"nice":false,"zero":false},"axis":null}}},
{"data":{"values":[{}]},"mark":{"type":"text","text":"(mA)","align":"left","baseline":"alphabetic","angle":270,"fontSize":52,"fontWeight":"bold","color":"black"},"encoding":{"x":{"datum":-8.012,"type":"quantitative","scale":{"domain":[0,40],"range":[1131.5,1798],"nice":false,"zero":false},"axis":null},"y":{"datum":7.685,"type":"quantitative","scale":{"domain":[0,18],"range":[425.5,25],"nice":false,"zero":false},"axis":null}}},
{"data":{"values":[{}]},"mark":{"type":"text","text":"V","align":"left","baseline":"alphabetic","fontSize":51,"fontWeight":"bold","color":"black"},"encoding":{"x":{"datum":15.334,"type":"quantitative","scale":{"domain":[0,40],"range":[1131.5,1798],"nice":false,"zero":false},"axis":null},"y":{"datum":-8.202,"type":"quantitative","scale":{"domain":[0,18],"range":[425.5,25],"nice":false,"zero":false},"axis":null}}},
{"data":{"values":[{}]},"mark":{"type":"text","text":"D","align":"left","baseline":"alphabetic","fontSize":34,"fontWeight":"bold","color":"black"},"encoding":{"x":{"datum":17.375,"type":"quantitative","scale":{"domain":[0,40],"range":[1131.5,1798],"nice":false,"zero":false},"axis":null},"y":{"datum":-8.876,"type":"quantitative","scale":{"domain":[0,18],"range":[425.5,25],"nice":false,"zero":false},"axis":null}}},
{"data":{"values":[{}]},"mark":{"type":"text","text":"(V)","align":"left","baseline":"alphabetic","fontSize":51,"fontWeight":"bold","color":"black"},"encoding":{"x":{"datum":19.697,"type":"quantitative","scale":{"domain":[0,40],"range":[1131.5,1798],"nice":false,"zero":false},"axis":null},"y":{"datum":-8.202,"type":"quantitative","scale":{"domain":[0,18],"range":[425.5,25],"nice":false,"zero":false},"axis":null}}},
{"data":{"values":[{}]},"mark":{"type":"point","shape":"M-0.442,0A0.442,1,0,1,0,0.442,0A0.442,1,0,1,0,-0.442,0Z","filled":false,"color":"#8B0000","size":19044,"strokeWidth":3,"opacity":1},"encoding":{"x":{"datum":37.21,"type":"quantitative","scale":{"domain":[0,40],"range":[1131.5,1798],"nice":false,"zero":false},"axis":null},"y":{"datum":12.652,"type":"quantitative","scale":{"domain":[0,18],"range":[425.5,25],"nice":false,"zero":false},"axis":null}}},
{"data":{"values":[{}]},"mark":{"type":"rule","color":"#A0451A","strokeWidth":3},"encoding":{"x":{"datum":37.588,"type":"quantitative","scale":{"domain":[0,40],"range":[1131.5,1798],"nice":false,"zero":false},"axis":null},"x2":{"datum":39.7},"y":{"datum":8.831,"type":"quantitative","scale":{"domain":[0,18],"range":[425.5,25],"nice":false,"zero":false},"axis":null},"y2":{"datum":-12.247}}},
{"data":{"values":[{}]},"mark":{"type":"point","shape":"M0,0L-1,-0.4L-1,0.4Z","filled":true,"color":"#A0451A","size":1024,"angle":265.71,"opacity":1},"encoding":{"x":{"datum":37.515,"type":"quantitative","scale":{"domain":[0,40],"range":[1131.5,1798],"nice":false,"zero":false},"axis":null},"y":{"datum":9.551,"type":"quantitative","scale":{"domain":[0,18],"range":[425.5,25],"nice":false,"zero":false},"axis":null}}},
{"data":{"values":[{}]},"mark":{"type":"rect","fill":"white","stroke":"#800000","strokeWidth":5},"encoding":{"x":{"datum":6.752,"type":"quantitative","scale":{"domain":[0,40],"range":[1131.5,1798],"nice":false,"zero":false},"axis":null},"x2":{"datum":40.96},"y":{"datum":-12.247,"type":"quantitative","scale":{"domain":[0,18],"range":[425.5,25],"nice":false,"zero":false},"axis":null},"y2":{"datum":-19.169}}},
{"data":{"values":[{}]},"mark":{"type":"text","text":"Self-Heating scales","align":"left","baseline":"alphabetic","fontSize":52,"color":"black"},"encoding":{"x":{"datum":8.312,"type":"quantitative","scale":{"domain":[0,40],"range":[1131.5,1798],"nice":false,"zero":false},"axis":null},"y":{"datum":-15.169,"type":"quantitative","scale":{"domain":[0,18],"range":[425.5,25],"nice":false,"zero":false},"axis":null}}},
{"data":{"values":[{}]},"mark":{"type":"text","text":"well with temperature","align":"left","baseline":"alphabetic","fontSize":52,"color":"black"},"encoding":{"x":{"datum":8.312,"type":"quantitative","scale":{"domain":[0,40],"range":[1131.5,1798],"nice":false,"zero":false},"axis":null},"y":{"datum":-18.045,"type":"quantitative","scale":{"domain":[0,18],"range":[425.5,25],"nice":false,"zero":false},"axis":null}}}
]},
{"layer":[
{"data":{"values":[{}]},"mark":{"type":"rect","fill":"transparent","stroke":"black","strokeWidth":2},
"encoding":{"x":{"datum":0.9,"type":"quantitative","scale":{"domain":[0.9,1.2],"range":[639,1105],"nice":false,"zero":false},"axis":null},"x2":{"datum":1.2},
"y":{"datum":0,"type":"quantitative","scale":{"domain":[0,0.4],"range":[945,666],"nice":false,"zero":false},"axis":null},"y2":{"datum":0.4}}},
{"data":{"values":[{"t":1},{"t":1.1}]},"mark":{"type":"rule","color":"#222222","strokeWidth":1.2},"encoding":{"x":{"field":"t","type":"quantitative","scale":{"domain":[0.9,1.2],"range":[639,1105],"nice":false,"zero":false},"axis":null},"y":{"datum":0,"type":"quantitative","scale":{"domain":[0,0.4],"range":[945,666],"nice":false,"zero":false},"axis":null},"y2":{"datum":0.01434}}},
{"data":{"values":[{"t":0.1},{"t":0.2},{"t":0.3}]},"mark":{"type":"rule","color":"#222222","strokeWidth":1.2},"encoding":{"y":{"field":"t","type":"quantitative","scale":{"domain":[0,0.4],"range":[945,666],"nice":false,"zero":false},"axis":null},"x":{"datum":0.9,"type":"quantitative","scale":{"domain":[0.9,1.2],"range":[639,1105],"nice":false,"zero":false},"axis":null},"x2":{"datum":0.90547}}},
{"data":{"values":[{"t":0.9},{"t":1},{"t":1.1},{"t":1.2}]},"mark":{"type":"text","align":"center","baseline":"alphabetic","fontSize":30,"color":"black"},"encoding":{"x":{"field":"t","type":"quantitative","scale":{"domain":[0.9,1.2],"range":[639,1105],"nice":false,"zero":false},"axis":null},"y":{"datum":-0.0823,"type":"quantitative","scale":{"domain":[0,0.4],"range":[945,666],"nice":false,"zero":false},"axis":null},"text":{"field":"t","type":"quantitative","format":"~g"}}},
{"data":{"values":[{"t":0},{"t":0.1},{"t":0.2},{"t":0.3},{"t":0.4}]},"mark":{"type":"text","align":"right","baseline":"middle","fontSize":25,"color":"black"},"encoding":{"y":{"field":"t","type":"quantitative","scale":{"domain":[0,0.4],"range":[945,666],"nice":false,"zero":false},"axis":null},"x":{"datum":0.88712,"type":"quantitative","scale":{"domain":[0.9,1.2],"range":[639,1105],"nice":false,"zero":false},"axis":null},"text":{"field":"t","type":"quantitative","format":"~g"}}},
{"data":{"name":"lmod"},"transform":[{"filter":"datum.v >= 0.9 && datum.v <= 1.2"}],"mark":{"type":"line","color":"black","strokeWidth":3.5},"encoding":{"x":{"field":"v","type":"quantitative","scale":{"domain":[0.9,1.2],"range":[639,1105],"nice":false,"zero":false},"axis":null},"y":{"field":"r","type":"quantitative","scale":{"domain":[0,0.4],"range":[945,666],"nice":false,"zero":false},"axis":null}}},
{"data":{"name":"lmod"},"transform":[{"filter":"datum.v >= 0.9 && datum.v <= 1.2"}],"mark":{"type":"line","color":"black","strokeWidth":3.5},"encoding":{"x":{"field":"v","type":"quantitative","scale":{"domain":[0.9,1.2],"range":[639,1105],"nice":false,"zero":false},"axis":null},"y":{"field":"g","type":"quantitative","scale":{"domain":[0,0.4],"range":[945,666],"nice":false,"zero":false},"axis":null}}},
{"data":{"name":"lmod"},"transform":[{"filter":"datum.v >= 0.9 && datum.v <= 1.2"}],"mark":{"type":"line","color":"black","strokeWidth":3.5},"encoding":{"x":{"field":"v","type":"quantitative","scale":{"domain":[0.9,1.2],"range":[639,1105],"nice":false,"zero":false},"axis":null},"y":{"field":"b","type":"quantitative","scale":{"domain":[0,0.4],"range":[945,666],"nice":false,"zero":false},"axis":null}}},
{"data":{"name":"lm"},"transform":[{"filter":"datum.v > 0.9 && datum.v < 1.2"}],"mark":{"type":"point","shape":"circle","filled":false,"color":"#FF0000","size":90,"strokeWidth":1.6,"opacity":1},"encoding":{"x":{"field":"v","type":"quantitative","scale":{"domain":[0.9,1.2],"range":[639,1105],"nice":false,"zero":false},"axis":null},"y":{"field":"r","type":"quantitative","scale":{"domain":[0,0.4],"range":[945,666],"nice":false,"zero":false},"axis":null}}},
{"data":{"name":"lm"},"transform":[{"filter":"datum.v > 0.9 && datum.v < 1.2"}],"mark":{"type":"point","shape":"diamond","filled":false,"color":"#008000","size":75,"strokeWidth":1.6,"opacity":1},"encoding":{"x":{"field":"v","type":"quantitative","scale":{"domain":[0.9,1.2],"range":[639,1105],"nice":false,"zero":false},"axis":null},"y":{"field":"g","type":"quantitative","scale":{"domain":[0,0.4],"range":[945,666],"nice":false,"zero":false},"axis":null}}},
{"data":{"name":"lm"},"transform":[{"filter":"datum.v > 0.9 && datum.v < 1.2"}],"mark":{"type":"point","shape":"triangle-up","filled":false,"color":"#0000FF","size":110,"strokeWidth":1.8,"opacity":1},"encoding":{"x":{"field":"v","type":"quantitative","scale":{"domain":[0.9,1.2],"range":[639,1105],"nice":false,"zero":false},"axis":null},"y":{"field":"b","type":"quantitative","scale":{"domain":[0,0.4],"range":[945,666],"nice":false,"zero":false},"axis":null}}},
{"data":{"values":[{}]},"mark":{"type":"text","text":"I","align":"left","baseline":"alphabetic","angle":270,"fontSize":30,"fontWeight":"bold","color":"black"},"encoding":{"x":{"datum":0.84657,"type":"quantitative","scale":{"domain":[0.9,1.2],"range":[639,1105],"nice":false,"zero":false},"axis":null},"y":{"datum":0.1319,"type":"quantitative","scale":{"domain":[0,0.4],"range":[945,666],"nice":false,"zero":false},"axis":null}}},
{"data":{"values":[{}]},"mark":{"type":"text","text":"D","align":"left","baseline":"alphabetic","angle":270,"fontSize":18,"fontWeight":"bold","color":"black"},"encoding":{"x":{"datum":0.84657,"type":"quantitative","scale":{"domain":[0.9,1.2],"range":[639,1105],"nice":false,"zero":false},"axis":null},"y":{"datum":0.1438,"type":"quantitative","scale":{"domain":[0,0.4],"range":[945,666],"nice":false,"zero":false},"axis":null}}},
{"data":{"values":[{}]},"mark":{"type":"text","text":"(mA)","align":"left","baseline":"alphabetic","angle":270,"fontSize":30,"fontWeight":"bold","color":"black"},"encoding":{"x":{"datum":0.84657,"type":"quantitative","scale":{"domain":[0.9,1.2],"range":[639,1105],"nice":false,"zero":false},"axis":null},"y":{"datum":0.1743,"type":"quantitative","scale":{"domain":[0,0.4],"range":[945,666],"nice":false,"zero":false},"axis":null}}},
{"data":{"values":[{}]},"mark":{"type":"text","text":"V","align":"left","baseline":"alphabetic","fontSize":30,"fontWeight":"bold","color":"black"},"encoding":{"x":{"datum":1.023,"type":"quantitative","scale":{"domain":[0.9,1.2],"range":[639,1105],"nice":false,"zero":false},"axis":null},"y":{"datum":-0.1677,"type":"quantitative","scale":{"domain":[0,0.4],"range":[945,666],"nice":false,"zero":false},"axis":null}}},
{"data":{"values":[{}]},"mark":{"type":"text","text":"G","align":"left","baseline":"alphabetic","fontSize":20,"fontWeight":"bold","color":"black"},"encoding":{"x":{"datum":1.03584,"type":"quantitative","scale":{"domain":[0.9,1.2],"range":[639,1105],"nice":false,"zero":false},"axis":null},"y":{"datum":-0.1749,"type":"quantitative","scale":{"domain":[0,0.4],"range":[945,666],"nice":false,"zero":false},"axis":null}}},
{"data":{"values":[{}]},"mark":{"type":"text","text":"(V)","align":"left","baseline":"alphabetic","fontSize":30,"fontWeight":"bold","color":"black"},"encoding":{"x":{"datum":1.05122,"type":"quantitative","scale":{"domain":[0.9,1.2],"range":[639,1105],"nice":false,"zero":false},"axis":null},"y":{"datum":-0.1677,"type":"quantitative","scale":{"domain":[0,0.4],"range":[945,666],"nice":false,"zero":false},"axis":null}}},
{"data":{"values":[{}]},"mark":{"type":"text","text":"ZTC point","align":"left","baseline":"alphabetic","fontSize":86,"color":"#A50D2D"},"encoding":{"x":{"datum":0.9579,"type":"quantitative","scale":{"domain":[0.9,1.2],"range":[639,1105],"nice":false,"zero":false},"axis":null},"y":{"datum":0.02867,"type":"quantitative","scale":{"domain":[0,0.4],"range":[945,666],"nice":false,"zero":false},"axis":null}}},
{"data":{"values":[{}]},"mark":{"type":"text","text":"ESSDERC, Montreux, Switzerland","align":"left","baseline":"alphabetic","fontSize":33,"font":"Liberation Serif","color":"black"},"encoding":{"x":{"datum":0.50536,"type":"quantitative","scale":{"domain":[0.9,1.2],"range":[639,1105],"nice":false,"zero":false},"axis":null},"y":{"datum":-0.20645,"type":"quantitative","scale":{"domain":[0,0.4],"range":[945,666],"nice":false,"zero":false},"axis":null}}},
{"data":{"values":[{}]},"mark":{"type":"text","text":"Y.S. Chauhan","align":"left","baseline":"alphabetic","fontSize":33,"font":"Liberation Serif","color":"black"},"encoding":{"x":{"datum":1.35966,"type":"quantitative","scale":{"domain":[0.9,1.2],"range":[639,1105],"nice":false,"zero":false},"axis":null},"y":{"datum":-0.20645,"type":"quantitative","scale":{"domain":[0,0.4],"range":[945,666],"nice":false,"zero":false},"axis":null}}},
{"data":{"values":[{}]},"mark":{"type":"text","text":"31","align":"left","baseline":"alphabetic","fontSize":33,"font":"Liberation Serif","color":"black"},"encoding":{"x":{"datum":1.6475,"type":"quantitative","scale":{"domain":[0.9,1.2],"range":[639,1105],"nice":false,"zero":false},"axis":null},"y":{"datum":-0.20645,"type":"quantitative","scale":{"domain":[0,0.4],"range":[945,666],"nice":false,"zero":false},"axis":null}}}
]}
],
"resolve":{"scale":{"x":"independent","y":"independent"},"axis":{"x":"independent","y":"independent"}}
}
